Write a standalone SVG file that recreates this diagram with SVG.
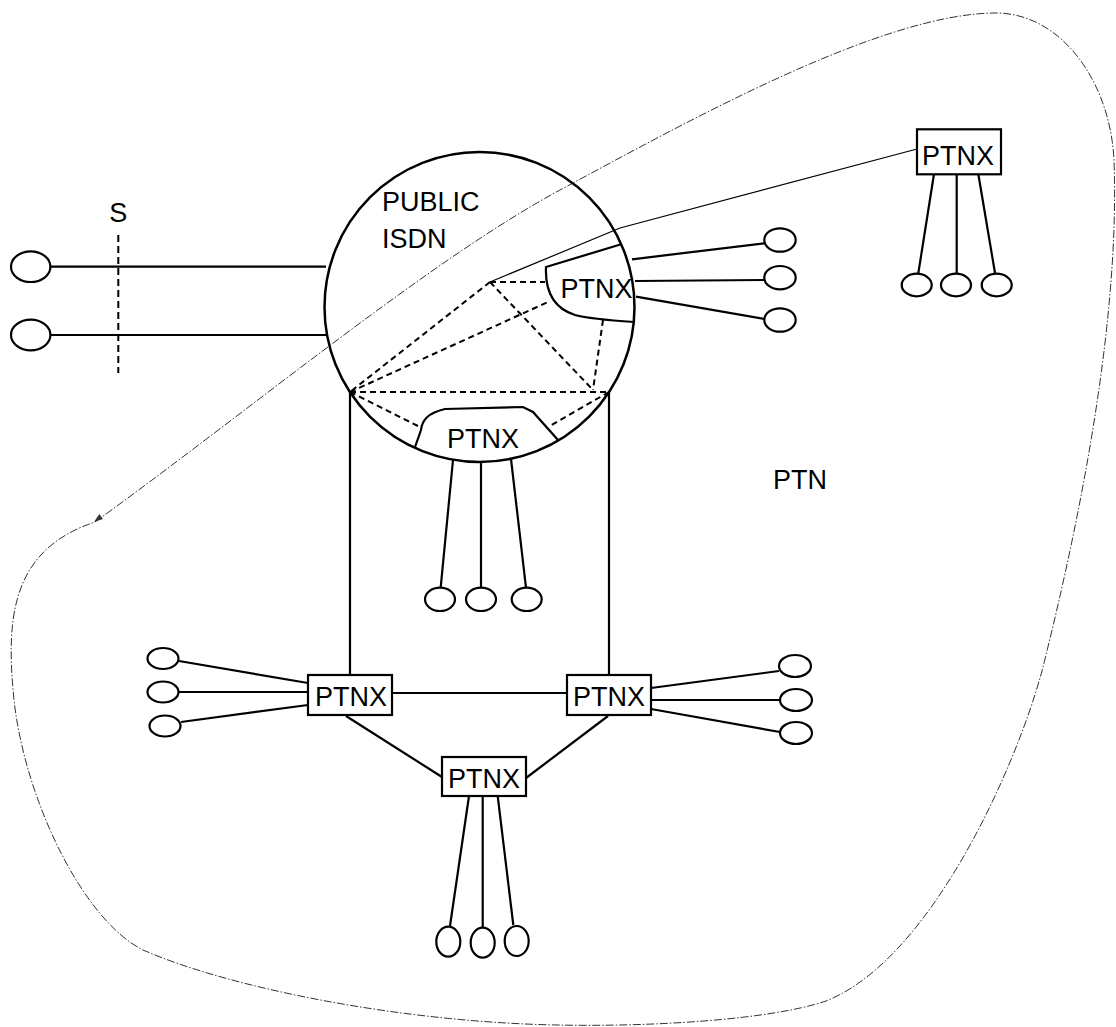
<svg xmlns="http://www.w3.org/2000/svg" width="1116" height="1027" viewBox="0 0 1116 1027">
<style>
.ln{stroke:#000;stroke-width:2.2;fill:none}
.thin{stroke:#000;stroke-width:1.2;fill:none}
.dash{stroke:#000;stroke-width:2;fill:none;stroke-dasharray:6,4}
.term{stroke:#000;stroke-width:2.2;fill:#fff}
.box{stroke:#000;stroke-width:2.2;fill:#fff}
.bnd{stroke:#333;stroke-width:1;fill:none;stroke-dasharray:8,2,1.5,2}
text{font-family:"Liberation Sans",Arial,sans-serif;font-size:27px;fill:#000}
.c{text-anchor:middle}
</style>
<rect width="1116" height="1027" fill="#fff"/>
<g id="ptn-boundary">
<path class="bnd" d="M95,522 C250,410 430,260 560,190 C680,125.7 880,13 996,13 C1060,13 1110,80 1114,160 C1120,320 1080,520 1042,671 C1015,770 930,960 826,1001 C770,1020 650,1027 557,1025 C400,1022 230,988 143,950 C83,920 25,800 14,700 C6,620 10,550 95,522"/>
<polygon points="94,522 103,519 99.3,514" fill="#333"/>
<text x="773" y="489">PTN</text>
</g>
<g id="connectors">
<line class="ln" x1="50" y1="266.7" x2="326" y2="266.7"/>
<line class="ln" x1="50" y1="335" x2="327" y2="335"/>
<polyline class="thin" points="917,149 620,228 490,282"/>
<line class="ln" x1="350" y1="392" x2="350" y2="675"/>
<line class="ln" x1="609" y1="392" x2="609" y2="675"/>
<line class="ln" x1="392" y1="693" x2="567" y2="693"/>
<line class="ln" x1="346" y1="716" x2="442" y2="777"/>
<line class="ln" x1="608" y1="716" x2="526" y2="778"/>
<line class="dash" x1="490" y1="282" x2="545" y2="282"/>
<line class="dash" x1="490" y1="282" x2="350" y2="392"/>
<line class="dash" x1="490" y1="282" x2="593" y2="390"/>
<line class="dash" x1="603" y1="320" x2="593" y2="390"/>
<line class="dash" x1="350" y1="392" x2="548" y2="302"/>
<line class="dash" x1="350" y1="392" x2="609" y2="392"/>
<line class="dash" x1="350" y1="392" x2="422" y2="428"/>
<line class="dash" x1="609" y1="392" x2="550" y2="426"/>
</g>
<g id="s-reference">
<line stroke="#000" stroke-width="2" stroke-dasharray="7,4" x1="118.3" y1="235" x2="118.3" y2="373"/>
<text class="c" x="118.3" y="222">S</text>
</g>
<g id="left-terminals">
<ellipse class="term" cx="30.7" cy="266.7" rx="19.7" ry="15.3"/>
<ellipse class="term" cx="30.7" cy="335" rx="19.7" ry="15.3"/>
</g>
<g id="public-isdn">
<circle cx="479.5" cy="307" r="155" fill="none" stroke="#000" stroke-width="2.5"/>
<text x="382" y="210.7">PUBLIC</text>
<text x="382" y="248.3">ISDN</text>
</g>
<g id="ptnx-inner-right">
<path class="ln" d="M622,244 L546,267 C545,290 553,308 575,315 Q590,319 634,322"/>
<text class="c" x="596.5" y="298">PTNX</text>
<line class="ln" x1="632" y1="259.3" x2="764.3" y2="243.3"/>
<line class="ln" x1="635" y1="281" x2="764.3" y2="280"/>
<line class="ln" x1="636" y1="296.7" x2="764.3" y2="319"/>
<ellipse class="term" cx="780" cy="240" rx="15.7" ry="11.7"/>
<ellipse class="term" cx="780" cy="277.7" rx="15.7" ry="11.7"/>
<ellipse class="term" cx="780" cy="320" rx="15.7" ry="11.7"/>
</g>
<g id="ptnx-inner-bottom">
<path class="ln" d="M415,447 L421,430 C422,420 428,413 445,409 L523,407 L533,412 L558,440"/>
<text class="c" x="483" y="448">PTNX</text>
<line class="ln" x1="453" y1="460" x2="440.7" y2="587.3"/>
<line class="ln" x1="481" y1="462" x2="481" y2="587.7"/>
<line class="ln" x1="511" y1="459" x2="526" y2="587.7"/>
<ellipse class="term" cx="440" cy="599.3" rx="15" ry="11.7"/>
<ellipse class="term" cx="481" cy="599.3" rx="15" ry="11.7"/>
<ellipse class="term" cx="526.7" cy="599.3" rx="15" ry="11.7"/>
</g>
<g id="ptnx-top-right">
<line class="ln" x1="934" y1="174" x2="918.3" y2="273.3"/>
<line class="ln" x1="956.7" y1="174" x2="956.7" y2="273.3"/>
<line class="ln" x1="978.3" y1="174" x2="995" y2="273"/>
<rect class="box" x="917" y="129.3" width="84" height="45"/>
<text class="c" x="958" y="165">PTNX</text>
<ellipse class="term" cx="916.7" cy="285" rx="15" ry="11.3"/>
<ellipse class="term" cx="956" cy="285" rx="15" ry="11.3"/>
<ellipse class="term" cx="996.7" cy="285" rx="15" ry="11.3"/>
</g>
<g id="ptnx-left">
<line class="ln" x1="179" y1="661" x2="308" y2="683"/>
<line class="ln" x1="179" y1="692" x2="308" y2="692"/>
<line class="ln" x1="181" y1="722" x2="308" y2="705"/>
<rect class="box" x="308" y="675" width="84" height="40"/>
<text class="c" x="351" y="706">PTNX</text>
<ellipse class="term" cx="163" cy="658.5" rx="15.5" ry="10.5"/>
<ellipse class="term" cx="163" cy="692" rx="15.5" ry="10.5"/>
<ellipse class="term" cx="165" cy="726" rx="15.5" ry="10.5"/>
</g>
<g id="ptnx-right">
<line class="ln" x1="651" y1="688" x2="779" y2="671"/>
<line class="ln" x1="651" y1="700" x2="780" y2="700"/>
<line class="ln" x1="651" y1="709" x2="780" y2="732"/>
<rect class="box" x="567" y="675" width="84" height="40"/>
<text class="c" x="609" y="706">PTNX</text>
<ellipse class="term" cx="795" cy="666" rx="16" ry="11"/>
<ellipse class="term" cx="796" cy="700" rx="16" ry="11"/>
<ellipse class="term" cx="796" cy="733" rx="16" ry="11"/>
</g>
<g id="ptnx-bottom">
<line class="ln" x1="469" y1="796" x2="450" y2="926"/>
<line class="ln" x1="482.7" y1="796" x2="482.7" y2="927"/>
<line class="ln" x1="497.7" y1="796" x2="513.3" y2="925"/>
<rect class="box" x="442" y="757" width="84" height="39"/>
<text class="c" x="484" y="788">PTNX</text>
<ellipse class="term" cx="448.3" cy="941.7" rx="12" ry="15"/>
<ellipse class="term" cx="482.7" cy="942.7" rx="12" ry="15"/>
<ellipse class="term" cx="516.7" cy="941" rx="12" ry="15"/>
</g>
</svg>
